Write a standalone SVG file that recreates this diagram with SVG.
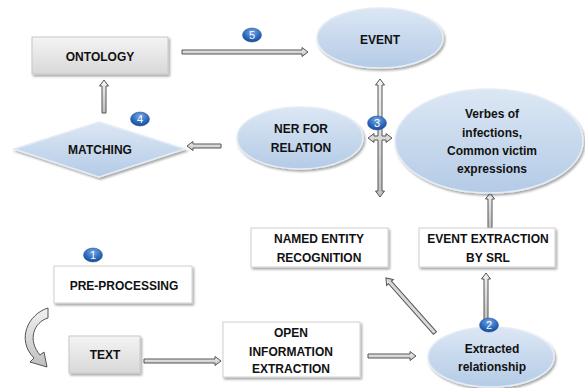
<svg xmlns="http://www.w3.org/2000/svg" width="585" height="388" viewBox="0 0 585 388">
<defs>
<linearGradient id="grayg" x1="0" y1="0" x2="0" y2="1"><stop offset="0" stop-color="#f4f4f4"/><stop offset="1" stop-color="#d8d8d8"/></linearGradient>
<linearGradient id="blueg" x1="0" y1="0" x2="0" y2="1"><stop offset="0" stop-color="#dce7f4"/><stop offset="1" stop-color="#b4cbe6"/></linearGradient>
<linearGradient id="arrg" x1="0" y1="0" x2="0" y2="1"><stop offset="0" stop-color="#f2f2f2"/><stop offset="1" stop-color="#bfbfbf"/></linearGradient>
<radialGradient id="badgeg" cx="0.5" cy="0.3" r="0.7"><stop offset="0" stop-color="#7aa8e0"/><stop offset="0.6" stop-color="#2e6cc0"/><stop offset="1" stop-color="#1b4b94"/></radialGradient>
<filter id="sh" x="-10%" y="-10%" width="125%" height="135%"><feDropShadow dx="1.5" dy="2" stdDeviation="1.2" flood-color="#000" flood-opacity="0.35"/></filter>
</defs>
<style>
.t{font-family:"Liberation Sans",Arial,sans-serif;font-weight:bold;font-size:12px;fill:#111;text-anchor:middle}
.box{fill:#fff;stroke:#d0d0d0;stroke-width:1;filter:url(#sh)}
.gbox{fill:url(#grayg);stroke:#c8c8c8;stroke-width:1;filter:url(#sh)}
.ell{fill:url(#blueg);stroke:#e4ecf6;stroke-width:1.5;filter:url(#sh)}
.arr{fill:url(#arrg);stroke:#555;stroke-width:1}
.badge{fill:url(#badgeg);stroke:#1b4b94;stroke-width:0.5}
.bn{font-family:"Liberation Sans",Arial,sans-serif;font-size:11px;fill:#fff;text-anchor:middle}
</style>

<g id="connectors">
<path class="arr" d="M182,50 H302 V47.5 L308,52 L302,56.5 V54 H182 Z"/>
<path class="arr" d="M102,113 V86 H99.5 L104,80 L108.5,86 H106 V113 Z"/>
<path class="arr" d="M221,144 H193 V141.5 L187,146 L193,150.5 V148 H221 Z"/>
<path class="arr" d="M380,79 L384.5,85 H382 V136 H386 V133.5 L392,138 L386,142.5 V140 H382 V191 H384.5 L380,197 L375.5,191 H378 V140 H374 V142.5 L368,138 L374,133.5 V136 H378 V85 H375.5 Z"/>
<path class="arr" d="M488,228 V199 H485.5 L490,193 L494.5,199 H492 V228 Z"/>
<path class="arr" d="M484,322 V279 H481.5 L486,273 L490.5,279 H488 V322 Z"/>
<path class="arr" transform="translate(435,333) rotate(-131.7)" d="M0,-2 H67.7 V-4.5 L73.7,0 L67.7,4.5 V2 H0 Z"/>
<path class="arr" d="M368,354 H410 V351.5 L416,356 L410,360.5 V358 H368 Z"/>
<path class="arr" d="M144,359 H215 V356.5 L221,361 L215,365.5 V363 H144 Z"/>
<path class="arr" d="M48,308 C28,314 16,340 34,358 L30,362 L47,367 L44,352 L40,355 C27,340 34,322 48,318 Z"/>
</g>

<g id="ontology"><rect class="gbox" x="32" y="37" width="136" height="37"/><text class="t" x="100" y="60.5">ONTOLOGY</text></g>
<g id="event"><ellipse class="ell" cx="380" cy="38" rx="63" ry="30"/><text class="t" x="380" y="44">EVENT</text></g>
<g id="matching"><polygon points="14,149 99,122 185,149 99,177" fill="url(#blueg)" stroke="#e4ecf6" stroke-width="1.5" filter="url(#sh)"/><text class="t" x="100" y="154">MATCHING</text></g>
<g id="ner-relation"><ellipse class="ell" cx="300" cy="138" rx="63" ry="31"/><text class="t" x="301" y="133">NER FOR</text><text class="t" x="301" y="152">RELATION</text></g>
<g id="verbes"><ellipse class="ell" cx="489" cy="141" rx="94" ry="52"/><text class="t" x="492" y="118">Verbes of</text><text class="t" x="492" y="137">infections,</text><text class="t" x="492" y="155">Common victim</text><text class="t" x="492" y="173">expressions</text></g>
<g id="ner"><rect class="box" x="251" y="228" width="137" height="39"/><text class="t" x="319" y="243">NAMED ENTITY</text><text class="t" x="319" y="262">RECOGNITION</text></g>
<g id="srl"><rect class="box" x="419" y="228" width="136" height="39"/><text class="t" x="488" y="243">EVENT EXTRACTION</text><text class="t" x="488" y="262">BY SRL</text></g>
<g id="preprocessing"><rect class="box" x="54" y="266" width="138" height="37"/><text class="t" x="124" y="290">PRE-PROCESSING</text></g>
<g id="text"><rect class="gbox" x="69" y="336" width="71" height="37"/><text class="t" x="105" y="359">TEXT</text></g>
<g id="openie"><rect class="box" x="223" y="322" width="137" height="55"/><text class="t" x="291" y="337">OPEN</text><text class="t" x="291" y="356">INFORMATION</text><text class="t" x="291" y="373">EXTRACTION</text></g>
<g id="extracted"><ellipse class="ell" cx="491" cy="357" rx="63" ry="30"/><text class="t" x="492" y="353">Extracted</text><text class="t" x="492" y="371">relationship</text></g>

<g id="badges">
<ellipse class="badge" cx="93" cy="255" rx="9.5" ry="7"/><text class="bn" x="93" y="259">1</text>
<ellipse class="badge" cx="489" cy="325" rx="9.5" ry="7"/><text class="bn" x="489" y="329">2</text>
<ellipse class="badge" cx="377" cy="123" rx="9.5" ry="7"/><text class="bn" x="377" y="127">3</text>
<ellipse class="badge" cx="140" cy="119" rx="9.5" ry="7"/><text class="bn" x="140" y="123">4</text>
<ellipse class="badge" cx="252" cy="35" rx="9.5" ry="7"/><text class="bn" x="252" y="39">5</text>
</g>
</svg>
